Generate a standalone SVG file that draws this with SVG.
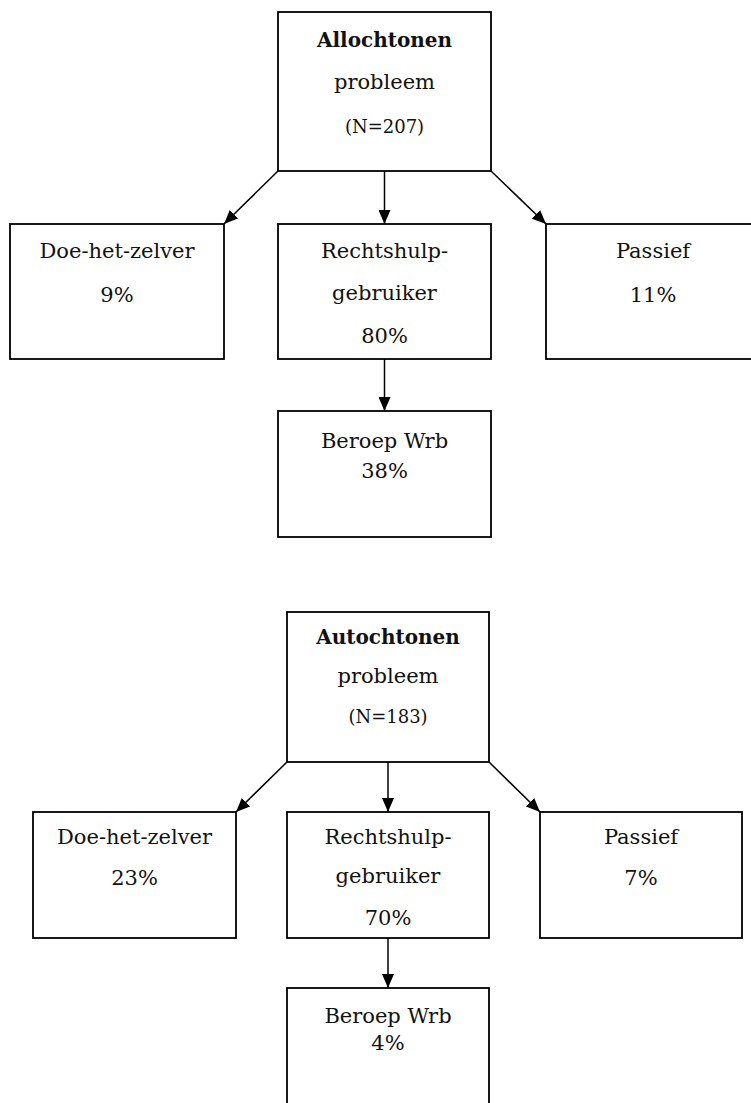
<svg xmlns="http://www.w3.org/2000/svg" width="751" height="1103" viewBox="0 0 751 1103">
<style>
.box{fill:#fff;stroke:#000;stroke-width:1.8}
.t{font-family:"DejaVu Serif","Liberation Serif",serif;font-size:21px;fill:#111;text-anchor:middle}
.b{font-weight:bold;font-size:20px}
.s{font-size:18px}
.c{stroke:#000;stroke-width:1.5;fill:none;marker-end:url(#ah)}
</style>
<defs>
<marker id="ah" markerUnits="userSpaceOnUse" markerWidth="14" markerHeight="12" refX="14" refY="6" orient="auto">
<path d="M0,0 L14,6 L0,12 z" fill="#000"/>
</marker>
</defs>
<rect width="751" height="1103" fill="#fff"/>
<g id="connectors">
<line class="c" x1="278" y1="171" x2="224" y2="224"/>
<line class="c" x1="384.5" y1="171" x2="384.5" y2="224"/>
<line class="c" x1="491" y1="171" x2="546" y2="224"/>
<line class="c" x1="384.5" y1="359" x2="384.5" y2="411"/>
<line class="c" x1="287" y1="762" x2="236" y2="812"/>
<line class="c" x1="388" y1="762" x2="388" y2="812"/>
<line class="c" x1="489" y1="762" x2="540" y2="812"/>
<line class="c" x1="388" y1="938" x2="388" y2="988"/>
</g>
<g id="top1">
<rect class="box" x="278" y="12" width="213" height="159"/>
<text class="t b" x="384.5" y="47">Allochtonen</text>
<text class="t" x="384.5" y="89">probleem</text>
<text class="t s" x="384.5" y="133">(N=207)</text>
</g>
<g id="diy1">
<rect class="box" x="10" y="224" width="214" height="135"/>
<text class="t" x="117" y="258">Doe-het-zelver</text>
<text class="t" x="117" y="302">9%</text>
</g>
<g id="rh1">
<rect class="box" x="278" y="224" width="213" height="135"/>
<text class="t" x="384.5" y="258">Rechtshulp-</text>
<text class="t" x="384.5" y="300">gebruiker</text>
<text class="t" x="384.5" y="343">80%</text>
</g>
<g id="pas1">
<rect class="box" x="546" y="224" width="214" height="135"/>
<text class="t" x="653" y="258">Passief</text>
<text class="t" x="653" y="302">11%</text>
</g>
<g id="wrb1">
<rect class="box" x="278" y="411" width="213" height="126"/>
<text class="t" x="384.5" y="448">Beroep Wrb</text>
<text class="t" x="384.5" y="478">38%</text>
</g>
<g id="top2">
<rect class="box" x="287" y="612" width="202" height="150"/>
<text class="t b" x="388" y="644">Autochtonen</text>
<text class="t" x="388" y="683">probleem</text>
<text class="t s" x="388" y="723">(N=183)</text>
</g>
<g id="diy2">
<rect class="box" x="33" y="812" width="203" height="126"/>
<text class="t" x="134.5" y="844">Doe-het-zelver</text>
<text class="t" x="134.5" y="885">23%</text>
</g>
<g id="rh2">
<rect class="box" x="287" y="812" width="202" height="126"/>
<text class="t" x="388" y="844">Rechtshulp-</text>
<text class="t" x="388" y="883">gebruiker</text>
<text class="t" x="388" y="925">70%</text>
</g>
<g id="pas2">
<rect class="box" x="540" y="812" width="202" height="126"/>
<text class="t" x="641" y="844">Passief</text>
<text class="t" x="641" y="885">7%</text>
</g>
<g id="wrb2">
<rect class="box" x="287" y="988" width="202" height="130"/>
<text class="t" x="388" y="1023">Beroep Wrb</text>
<text class="t" x="388" y="1050">4%</text>
</g>
</svg>
